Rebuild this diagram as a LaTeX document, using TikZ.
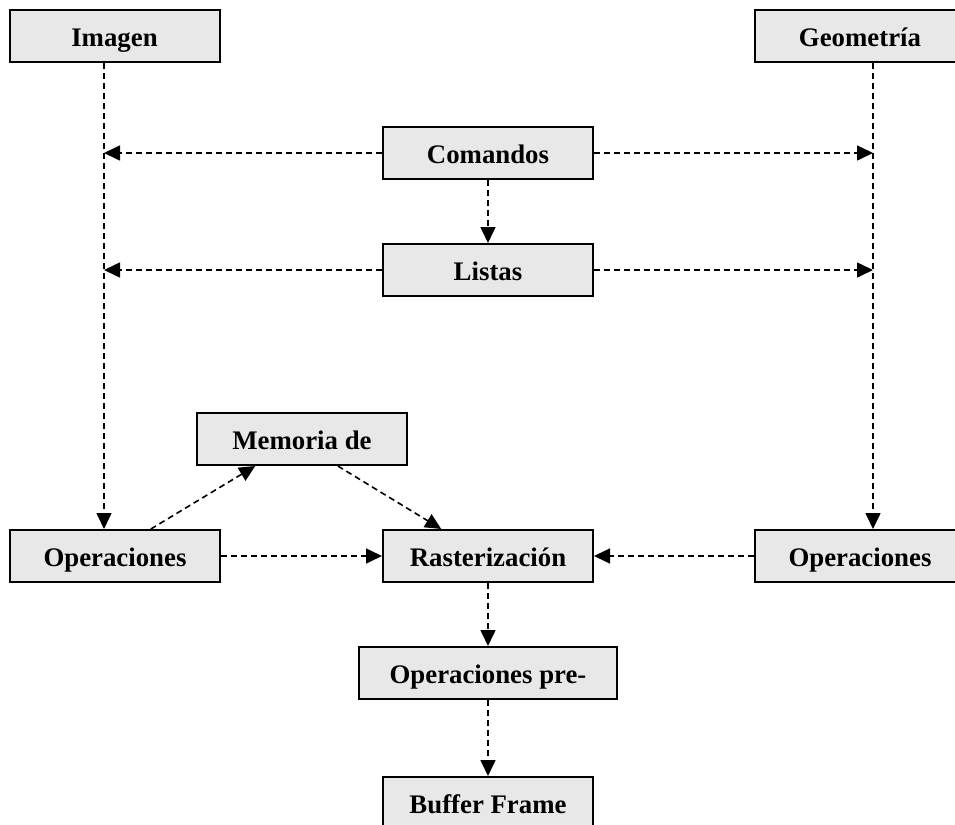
\documentclass[tikz,border=0pt]{standalone}
\usepackage{fontspec}
\setmainfont{Liberation Serif}
\usetikzlibrary{arrows.meta}
\definecolor{boxgray}{RGB}{232,232,232}

\begin{document}
\begin{tikzpicture}[x=0.5pt,y=-0.5pt,
  bloque/.style={draw=black,line width=1pt,fill=boxgray,inner sep=0pt,
    text height=10pt,text depth=0pt,
    minimum width=105pt,minimum height=26pt,font=\bfseries\fontsize{13.4}{15}\selectfont},
  flujo/.style={line width=0.8pt,dash pattern=on 3pt off 2pt,
    -{Triangle[length=8pt,width=7.5pt]}}]

\useasboundingbox (0,0) rectangle (955,825);

% Top row
\node[bloque] (imagen) at (114.5,36) {Imagen};
\node[bloque] (geometria) at (860,36) {Geometría};
\node[bloque] (comandos) at (488,153) {Comandos};
\node[bloque] (listas) at (488,270) {Listas};

% Middle
\node[bloque] (memoria) at (302,439) {Memoria de};
\node[bloque] (opizq) at (115,556) {Operaciones};
\node[bloque] (raster) at (488,556) {Rasterización};
\node[bloque] (opder) at (860,556) {Operaciones};

% Bottom
\node[bloque,minimum width=129pt] (oppre) at (488,673) {Operaciones pre-};
\node[bloque] (buffer) at (488,803) {Buffer Frame};

% Vertical lines
\coordinate (izq) at (104,0);
\coordinate (der) at (873,0);
\draw[flujo] (imagen.south -| izq) -- (opizq.north -| izq);
\draw[flujo] (geometria.south -| der) -- (opder.north -| der);

% Side arrows
\draw[flujo] (comandos.west) -- (comandos.west -| izq);
\draw[flujo] (comandos.east) -- (comandos.east -| der);
\draw[flujo] (listas.west) -- (listas.west -| izq);
\draw[flujo] (listas.east) -- (listas.east -| der);
\draw[flujo] (comandos.south) -- (listas.north);

% Memory loop
\draw[flujo] (opizq.37) -- (memoria.210);
\draw[flujo] (memoria.323) -- (raster.150);

% Into rasterization
\draw[flujo] (opizq.east) -- (raster.west);
\draw[flujo] (opder.west) -- (raster.east);
\draw[flujo] (raster.south) -- (oppre.north);
\draw[flujo] (oppre.south) -- (buffer.north);

\end{tikzpicture}
\end{document}
